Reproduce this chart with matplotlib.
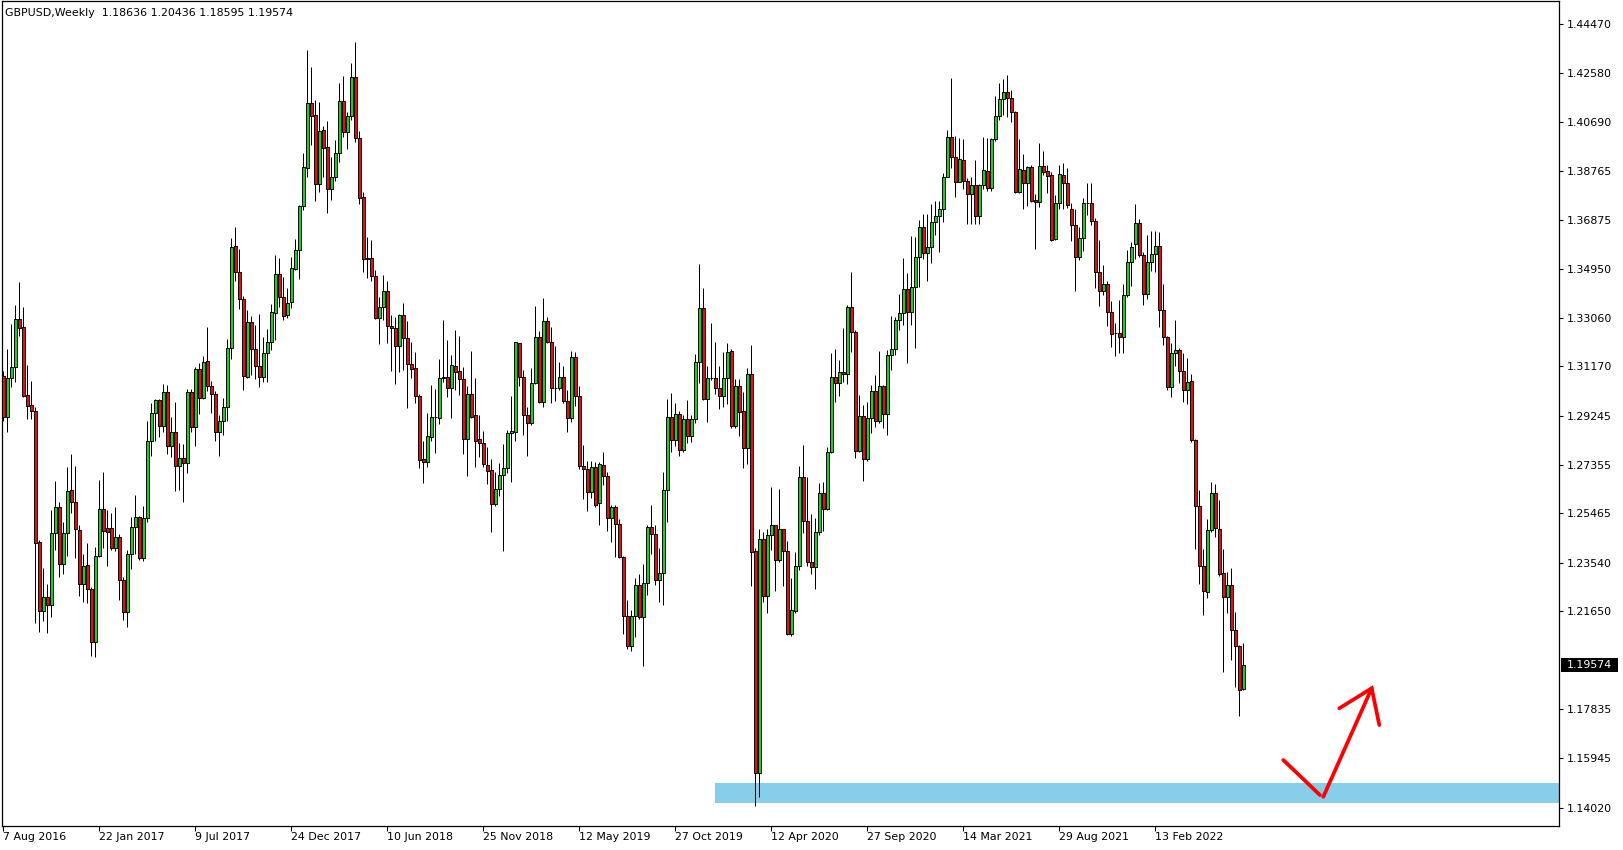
import datetime as dt
import numpy as np
import pandas as pd
import matplotlib
matplotlib.use("Agg")
import matplotlib.pyplot as plt
from matplotlib.patches import Rectangle
from matplotlib.collections import LineCollection, PatchCollection

# ---------------- data ----------------
title_text = "GBPUSD,Weekly  1.18636 1.20436 1.18595 1.19574"
first_week = "2016-08-07"

opens = [
    1.3080, 1.2919, 1.3071, 1.3114, 1.3300, 1.3269, 1.3005, 1.2966, 1.2943, 1.2433,
    1.2165, 1.2220, 1.2188, 1.2468, 1.2572, 1.2348, 1.2468, 1.2637, 1.2589, 1.2480,
    1.2270, 1.2345, 1.2251, 1.2045, 1.2380, 1.2562, 1.2488, 1.2488, 1.2413, 1.2453,
    1.2286, 1.2161, 1.2387, 1.2492, 1.2533, 1.2371, 1.2529, 1.2826, 1.2937, 1.2985,
    1.2887, 1.3017, 1.2807, 1.2864, 1.2729, 1.2760, 1.2741, 1.3017, 1.2883, 1.3107,
    1.2993, 1.3138, 1.3042, 1.3009, 1.2864, 1.2906, 1.2958, 1.3188, 1.3587, 1.3486,
    1.3378, 1.3077, 1.3291, 1.3184, 1.3120, 1.3077, 1.3168, 1.3211, 1.3324, 1.3475,
    1.3386, 1.3317, 1.3369, 1.3496, 1.3569, 1.3740, 1.3887, 1.4140, 1.4093, 1.3825,
    1.4036, 1.3969, 1.3806, 1.3852, 1.3946, 1.4148, 1.4027, 1.4090, 1.4241, 1.4004,
    1.3775, 1.3540, 1.3540, 1.3470, 1.3307, 1.3347, 1.3409, 1.3276, 1.3265, 1.3198,
    1.3316, 1.3226, 1.3125, 1.3110, 1.3002, 1.2756, 1.2744, 1.2842, 1.2919, 1.2915,
    1.3075, 1.3075, 1.3032, 1.3117, 1.3098, 1.3068, 1.2834, 1.3009, 1.2927, 1.2834,
    1.2818, 1.2733, 1.2713, 1.2581, 1.2639, 1.2694, 1.2721, 1.2857, 1.2861, 1.3207,
    1.3075, 1.2927, 1.2896, 1.3051, 1.3230, 1.2980, 1.3293, 1.3211, 1.3032, 1.3032,
    1.3075, 1.2984, 1.2918, 1.3155, 1.3002, 1.2731, 1.2717, 1.2628, 1.2727, 1.2585,
    1.2733, 1.2693, 1.2527, 1.2569, 1.2503, 1.2375, 1.2145, 1.2032, 1.2145, 1.2269,
    1.2142, 1.2275, 1.2493, 1.2464, 1.2288, 1.2316, 1.2637, 1.2920, 1.2830, 1.2931,
    1.2791, 1.2911, 1.2847, 1.2911, 1.3133, 1.3344, 1.2990, 1.3071, 1.3071, 1.3033,
    1.3002, 1.3071, 1.3177, 1.2887, 1.3040, 1.2944, 1.2799, 1.3089, 1.2399, 1.1537,
    1.2446, 1.2223, 1.2460, 1.2500, 1.2364, 1.2484, 1.2399, 1.2078, 1.2166, 1.2340,
    1.2686, 1.2515, 1.2357, 1.2336, 1.2473, 1.2625, 1.2562, 1.2786, 1.3077, 1.3054,
    1.3097, 1.3087, 1.3347, 1.3250, 1.2790, 1.2926, 1.2756, 1.2915, 1.3023, 1.2906,
    1.3042, 1.2931, 1.3162, 1.3184, 1.3298, 1.3324, 1.3417, 1.3328, 1.3425, 1.3544,
    1.3658, 1.3557, 1.3583, 1.3678, 1.3702, 1.3728, 1.3855, 1.4011, 1.3933, 1.3836,
    1.3920, 1.3839, 1.3786, 1.3821, 1.3702, 1.3823, 1.3877, 1.3812, 1.4000, 1.4092,
    1.4156, 1.4186, 1.4160, 1.4108, 1.3794, 1.3881, 1.3829, 1.3891, 1.3764, 1.3758,
    1.3897, 1.3877, 1.3860, 1.3613, 1.3752, 1.3860, 1.3832, 1.3728, 1.3666, 1.3541,
    1.3617, 1.3752, 1.3752, 1.3684, 1.3485, 1.3412, 1.3439, 1.3330, 1.3248, 1.3249,
    1.3232, 1.3393, 1.3525, 1.3592, 1.3673, 1.3552, 1.3398, 1.3525, 1.3553, 1.3587,
    1.3335, 1.3232, 1.3038, 1.3169, 1.3180, 1.3101, 1.3027, 1.3059, 1.2833, 1.2576,
    1.2340, 1.2240, 1.2481, 1.2624, 1.2485, 1.2315, 1.2219, 1.2267, 1.2094, 1.2030,
    1.18636,
]

highs = [
    1.3101, 1.3185, 1.3282, 1.3356, 1.3444, 1.3347, 1.3121, 1.3061, 1.2960, 1.2442,
    1.2332, 1.2271, 1.2559, 1.2672, 1.2589, 1.2514, 1.2725, 1.2777, 1.2730, 1.2501,
    1.2389, 1.2429, 1.2260, 1.2417, 1.2674, 1.2708, 1.2560, 1.2546, 1.2571, 1.2465,
    1.2300, 1.2404, 1.2533, 1.2617, 1.2536, 1.2575, 1.2904, 1.2976, 1.2991, 1.2991,
    1.3048, 1.3045, 1.2921, 1.2978, 1.2820, 1.2816, 1.3028, 1.3028, 1.3114, 1.3132,
    1.3158, 1.3272, 1.3061, 1.3022, 1.2928, 1.2993, 1.3222, 1.3615, 1.3659, 1.3574,
    1.3390, 1.3337, 1.3313, 1.3278, 1.3320, 1.3230, 1.3263, 1.3359, 1.3550, 1.3537,
    1.3466, 1.3421, 1.3544, 1.3611, 1.3745, 1.3946, 1.4347, 1.4281, 1.4153, 1.4144,
    1.4052, 1.4071, 1.3933, 1.3998, 1.4219, 1.4246, 1.4108, 1.4297, 1.4377, 1.4033,
    1.3794, 1.3619, 1.3609, 1.3492, 1.3388, 1.3473, 1.3451, 1.3316, 1.3308, 1.3321,
    1.3362, 1.3294, 1.3211, 1.3173, 1.3010, 1.2827, 1.2935, 1.3045, 1.3029, 1.3146,
    1.3298, 1.3220, 1.3160, 1.3259, 1.3236, 1.3116, 1.3041, 1.3177, 1.3072, 1.2928,
    1.2866, 1.2803, 1.2757, 1.2708, 1.2740, 1.2816, 1.2870, 1.3002, 1.3213, 1.3210,
    1.3103, 1.2961, 1.3112, 1.3353, 1.3255, 1.3383, 1.3311, 1.3272, 1.3197, 1.3136,
    1.3119, 1.3026, 1.3178, 1.3173, 1.3041, 1.2812, 1.2750, 1.2750, 1.2747, 1.2744,
    1.2783, 1.2708, 1.2578, 1.2578, 1.2523, 1.2382, 1.2208, 1.2170, 1.2293, 1.2309,
    1.2351, 1.2502, 1.2580, 1.2502, 1.2411, 1.2705, 1.2990, 1.3014, 1.2976, 1.2944,
    1.2927, 1.2986, 1.2927, 1.3167, 1.3516, 1.3421, 1.3120, 1.3287, 1.3212, 1.3118,
    1.3174, 1.3209, 1.3185, 1.3068, 1.3068, 1.3019, 1.3110, 1.3200, 1.2413, 1.2484,
    1.2474, 1.2484, 1.2648, 1.2502, 1.2641, 1.2485, 1.2439, 1.2295, 1.2394, 1.2729,
    1.2811, 1.2686, 1.2542, 1.2527, 1.2665, 1.2669, 1.2803, 1.3168, 1.3184, 1.3142,
    1.3265, 1.3356, 1.3483, 1.3259, 1.3006, 1.2967, 1.2980, 1.3045, 1.3084, 1.3177,
    1.3045, 1.3181, 1.3313, 1.3311, 1.3399, 1.3537, 1.3482, 1.3624, 1.3622, 1.3687,
    1.3709, 1.3709, 1.3749, 1.3761, 1.3762, 1.3868, 1.4036, 1.4237, 1.4013, 1.4004,
    1.4000, 1.3849, 1.3853, 1.3920, 1.3827, 1.4008, 1.4004, 1.4007, 1.4169, 1.4218,
    1.4235, 1.4250, 1.4192, 1.4112, 1.4000, 1.3942, 1.3897, 1.3900, 1.3786, 1.3985,
    1.3955, 1.3900, 1.3875, 1.3784, 1.3900, 1.3910, 1.3890, 1.3752, 1.3728, 1.3659,
    1.3774, 1.3832, 1.3830, 1.3696, 1.3607, 1.3513, 1.3448, 1.3370, 1.3288, 1.3374,
    1.3437, 1.3568, 1.3600, 1.3749, 1.3689, 1.3564, 1.3628, 1.3642, 1.3642, 1.3638,
    1.3437, 1.3235, 1.3210, 1.3298, 1.3187, 1.3169, 1.3149, 1.3089, 1.2837, 1.2635,
    1.2406, 1.2523, 1.2666, 1.2659, 1.2597, 1.2406, 1.2319, 1.2333, 1.2163, 1.2034,
    1.20436,
]

lows = [
    1.2906, 1.2864, 1.3036, 1.3058, 1.3237, 1.2997, 1.2914, 1.2914, 1.2118, 1.2086,
    1.2129, 1.2080, 1.2142, 1.2404, 1.2300, 1.2310, 1.2381, 1.2546, 1.2374, 1.2226,
    1.2200, 1.2196, 1.1993, 1.1986, 1.2375, 1.2410, 1.2343, 1.2404, 1.2400, 1.2209,
    1.2131, 1.2105, 1.2331, 1.2388, 1.2365, 1.2362, 1.2514, 1.2770, 1.2827, 1.2844,
    1.2864, 1.2775, 1.2766, 1.2634, 1.2637, 1.2589, 1.2704, 1.2864, 1.2809, 1.2932,
    1.2989, 1.3023, 1.2937, 1.2829, 1.2770, 1.2851, 1.2906, 1.3146, 1.3451, 1.3342,
    1.3025, 1.3073, 1.3084, 1.3068, 1.3038, 1.3058, 1.3058, 1.3181, 1.3220, 1.3350,
    1.3298, 1.3307, 1.3346, 1.3492, 1.3457, 1.3725, 1.3855, 1.3978, 1.3762, 1.3797,
    1.3855, 1.3712, 1.3764, 1.3838, 1.3913, 1.4011, 1.3964, 1.4075, 1.3990, 1.3747,
    1.3486, 1.3460, 1.3451, 1.3303, 1.3203, 1.3298, 1.3210, 1.3101, 1.3048, 1.3094,
    1.3103, 1.2957, 1.3071, 1.2974, 1.2721, 1.2663, 1.2727, 1.2829, 1.2782, 1.2895,
    1.3055, 1.3000, 1.2918, 1.3026, 1.3006, 1.2775, 1.2693, 1.2915, 1.2725, 1.2766,
    1.2725, 1.2659, 1.2475, 1.2575, 1.2613, 1.2401, 1.2704, 1.2669, 1.2829, 1.3042,
    1.2852, 1.2770, 1.2891, 1.3048, 1.2976, 1.2958, 1.3210, 1.2976, 1.2983, 1.3026,
    1.2976, 1.2862, 1.2901, 1.2965, 1.2717, 1.2603, 1.2556, 1.2606, 1.2572, 1.2501,
    1.2656, 1.2479, 1.2436, 1.2378, 1.2371, 1.2078, 1.2018, 1.2012, 1.2064, 1.2135,
    1.1954, 1.2230, 1.2389, 1.2269, 1.2201, 1.2191, 1.2514, 1.2785, 1.2806, 1.2768,
    1.2785, 1.2821, 1.2825, 1.2896, 1.3051, 1.2986, 1.2903, 1.3065, 1.3011, 1.2953,
    1.2959, 1.2972, 1.2877, 1.2877, 1.2845, 1.2722, 1.2736, 1.2262, 1.1407, 1.1442,
    1.2201, 1.2159, 1.2404, 1.2245, 1.2358, 1.2265, 1.2074, 1.2070, 1.2160, 1.2326,
    1.2470, 1.2340, 1.2312, 1.2251, 1.2460, 1.2478, 1.2559, 1.2782, 1.2980, 1.3002,
    1.3058, 1.3049, 1.3175, 1.2763, 1.2786, 1.2673, 1.2751, 1.2860, 1.2883, 1.2896,
    1.2879, 1.2851, 1.3103, 1.3162, 1.3259, 1.3278, 1.3132, 1.3278, 1.3188, 1.3427,
    1.3534, 1.3451, 1.3518, 1.3628, 1.3563, 1.3680, 1.3855, 1.3887, 1.3777, 1.3836,
    1.3806, 1.3670, 1.3670, 1.3670, 1.3670, 1.3807, 1.3801, 1.3801, 1.3995, 1.4075,
    1.4095, 1.4086, 1.4069, 1.3793, 1.3793, 1.3729, 1.3742, 1.3758, 1.3572, 1.3736,
    1.3860, 1.3791, 1.3603, 1.3610, 1.3731, 1.3728, 1.3735, 1.3606, 1.3412, 1.3531,
    1.3566, 1.3707, 1.3668, 1.3423, 1.3353, 1.3395, 1.3274, 1.3194, 1.3159, 1.3170,
    1.3170, 1.3388, 1.3430, 1.3534, 1.3543, 1.3356, 1.3381, 1.3489, 1.3485, 1.3270,
    1.3201, 1.3027, 1.2999, 1.3120, 1.3051, 1.2978, 1.2971, 1.2823, 1.2409, 1.2273,
    1.2152, 1.2215, 1.2474, 1.2455, 1.2301, 1.1930, 1.2159, 1.1976, 1.1872, 1.1757,
    1.18595,
]

closes = [
    1.2922, 1.3071, 1.3116, 1.3300, 1.3265, 1.3002, 1.2963, 1.2943, 1.2429, 1.2168,
    1.2220, 1.2188, 1.2468, 1.2572, 1.2348, 1.2468, 1.2632, 1.2591, 1.2484, 1.2270,
    1.2341, 1.2251, 1.2045, 1.2380, 1.2562, 1.2477, 1.2475, 1.2413, 1.2453, 1.2286,
    1.2161, 1.2387, 1.2492, 1.2533, 1.2371, 1.2529, 1.2826, 1.2937, 1.2985, 1.2887,
    1.3017, 1.2807, 1.2864, 1.2729, 1.2760, 1.2741, 1.3017, 1.2883, 1.3107, 1.2993,
    1.3133, 1.3042, 1.3009, 1.2864, 1.2906, 1.2958, 1.3188, 1.3583, 1.3486, 1.3378,
    1.3081, 1.3291, 1.3184, 1.3120, 1.3077, 1.3168, 1.3211, 1.3327, 1.3475, 1.3386,
    1.3315, 1.3362, 1.3499, 1.3569, 1.3740, 1.3891, 1.4140, 1.4092, 1.3828, 1.4031,
    1.3965, 1.3806, 1.3852, 1.3946, 1.4148, 1.4027, 1.4090, 1.4241, 1.4004, 1.3773,
    1.3534, 1.3534, 1.3470, 1.3307, 1.3347, 1.3409, 1.3276, 1.3265, 1.3198, 1.3316,
    1.3226, 1.3125, 1.3106, 1.3002, 1.2753, 1.2744, 1.2847, 1.2919, 1.2919, 1.3071,
    1.3071, 1.3032, 1.3121, 1.3097, 1.3067, 1.2834, 1.3009, 1.2922, 1.2829, 1.2818,
    1.2737, 1.2712, 1.2581, 1.2639, 1.2694, 1.2721, 1.2857, 1.2865, 1.3211, 1.3075,
    1.2927, 1.2896, 1.3051, 1.3230, 1.2980, 1.3293, 1.3211, 1.3032, 1.3032, 1.3075,
    1.2984, 1.2918, 1.3155, 1.3003, 1.2731, 1.2720, 1.2628, 1.2727, 1.2578, 1.2737,
    1.2693, 1.2527, 1.2569, 1.2503, 1.2378, 1.2145, 1.2032, 1.2145, 1.2269, 1.2142,
    1.2275, 1.2493, 1.2464, 1.2288, 1.2316, 1.2637, 1.2920, 1.2830, 1.2931, 1.2791,
    1.2911, 1.2847, 1.2911, 1.3133, 1.3344, 1.2990, 1.3071, 1.3071, 1.3033, 1.3002,
    1.3071, 1.3174, 1.2887, 1.3040, 1.2941, 1.2799, 1.3089, 1.2396, 1.1537, 1.2445,
    1.2223, 1.2460, 1.2500, 1.2364, 1.2484, 1.2399, 1.2078, 1.2170, 1.2340, 1.2686,
    1.2515, 1.2357, 1.2336, 1.2473, 1.2625, 1.2562, 1.2786, 1.3077, 1.3054, 1.3097,
    1.3087, 1.3347, 1.3252, 1.2790, 1.2926, 1.2756, 1.2915, 1.3023, 1.2906, 1.3042,
    1.2931, 1.3162, 1.3184, 1.3298, 1.3324, 1.3417, 1.3328, 1.3425, 1.3544, 1.3658,
    1.3557, 1.3583, 1.3678, 1.3702, 1.3728, 1.3855, 1.4011, 1.3933, 1.3836, 1.3922,
    1.3839, 1.3786, 1.3821, 1.3702, 1.3823, 1.3881, 1.3812, 1.4000, 1.4092, 1.4156,
    1.4186, 1.4160, 1.4108, 1.3794, 1.3885, 1.3829, 1.3891, 1.3760, 1.3755, 1.3897,
    1.3875, 1.3856, 1.3610, 1.3752, 1.3864, 1.3832, 1.3745, 1.3666, 1.3543, 1.3617,
    1.3752, 1.3752, 1.3684, 1.3485, 1.3412, 1.3439, 1.3330, 1.3242, 1.3248, 1.3232,
    1.3393, 1.3525, 1.3580, 1.3673, 1.3552, 1.3398, 1.3525, 1.3553, 1.3587, 1.3335,
    1.3232, 1.3038, 1.3169, 1.3180, 1.3101, 1.3027, 1.3055, 1.2833, 1.2576, 1.2340,
    1.2243, 1.2481, 1.2624, 1.2488, 1.2312, 1.2219, 1.2267, 1.2093, 1.2030, 1.1861,
    1.19574,
]

price_ticks = [1.44470, 1.42580, 1.40690, 1.38765, 1.36875, 1.34950, 1.33060,
               1.31170, 1.29245, 1.27355, 1.25465, 1.23540, 1.21650, 1.17835,
               1.15945, 1.14020]
date_labels = ["7 Aug 2016", "22 Jan 2017", "9 Jul 2017", "24 Dec 2017",
               "10 Jun 2018", "25 Nov 2018", "12 May 2019", "27 Oct 2019",
               "12 Apr 2020", "27 Sep 2020", "14 Mar 2021", "29 Aug 2021",
               "13 Feb 2022"]
last_price = 1.19574

# support zone (drawn rectangle)
zone_start = "2020-01-05"
zone_low = 1.1421
zone_high = 1.1499

# hand-drawn red arrow (bar number from first week, price)
arrow_leg1_bars = [319.95, 329.1]
arrow_leg1_prices = [1.1587, 1.1451]
arrow_leg2_bars = [329.95, 342.05]
arrow_leg2_prices = [1.1444, 1.1866]
arrow_head_bars = [333.95, 342.05, 343.95]
arrow_head_prices = [1.1788, 1.1866, 1.1723]

# ---------------- styling ----------------
BULL = "#22cc22"
BEAR = "#dd1111"
ZONE = "#87ceeb"
FS = 7.9

W, H = 1624, 850
fig = plt.figure(figsize=(W / 100, H / 100), dpi=100)
fig.patch.set_facecolor("white")
left_px, right_px, top_px, bottom_px = 2.0, 1559.5, 1.0, 826.0
ax = fig.add_axes([left_px / W, 1 - bottom_px / H,
                   (right_px - left_px) / W, (bottom_px - top_px) / H])
ax.set_facecolor("white")

o = np.array(opens)
h = np.array(highs)
l = np.array(lows)
c = np.array(closes)
n = len(c)
xs = np.arange(n)
weeks = pd.date_range(first_week, periods=n, freq="7D")

bar_px = 4.0
ax.set_xlim(-(3.5 - left_px) / bar_px, (right_px - 3.5) / bar_px)
ax.set_ylim(1.13304, 1.45380)

# zone rectangle
z0 = weeks.get_loc(pd.Timestamp(zone_start))
ax.add_patch(Rectangle((z0, zone_low), ax.get_xlim()[1] - z0 + 1, zone_high - zone_low,
                       facecolor=ZONE, edgecolor="none", zorder=1))

# candles
body_w = 0.62
lo = np.minimum(l, np.minimum(o, c))
hi = np.maximum(h, np.maximum(o, c))
wicks = [[(xi, a), (xi, b)] for xi, a, b in zip(xs, lo, hi)]
ax.add_collection(LineCollection(wicks, colors="black", linewidths=0.72, zorder=2))
rects = [Rectangle((xi - body_w / 2, min(oi, ci)), body_w, abs(ci - oi))
         for xi, oi, ci in zip(xs, o, c)]
fcols = [BULL if ci >= oi else BEAR for oi, ci in zip(o, c)]
ax.add_collection(PatchCollection(rects, facecolors=fcols, edgecolors="black",
                                  linewidths=0.65, zorder=3))

# arrow
for bx, py in [(arrow_leg1_bars, arrow_leg1_prices),
               (arrow_leg2_bars, arrow_leg2_prices),
               (arrow_head_bars, arrow_head_prices)]:
    ax.plot(bx, py, color="#ff0000", lw=2.7, solid_capstyle="round",
            solid_joinstyle="miter", zorder=4)

# axes / ticks
for s in ax.spines.values():
    s.set_color("black")
    s.set_linewidth(0.9)
ax.yaxis.tick_right()
ax.set_yticks(price_ticks)
ax.set_yticklabels([f"{p:.5f}" for p in price_ticks])
ax.tick_params(axis="y", direction="out", length=3.0, width=0.8, pad=2.6,
               labelsize=FS, colors="black")

date_pos = [weeks.get_loc(pd.Timestamp(dt.datetime.strptime(d, "%d %b %Y")))
            for d in date_labels]
ax.set_xticks(date_pos)
ax.set_xticklabels(date_labels)
ax.tick_params(axis="x", direction="out", length=3.5, width=0.8, pad=1.0,
               labelsize=FS, colors="black")
for lab in ax.get_xticklabels():
    lab.set_ha("left")

# title
fig.text(5 / W, 1 - 12.5 / H, title_text, ha="left", va="center", fontsize=FS,
         color="black")

# current price box
y_disp = ax.transData.transform((0, last_price))[1]
box_h = 14
fig.add_artist(Rectangle((1561.5 / W, (y_disp - box_h / 2) / H), 57 / W, box_h / H,
                         transform=fig.transFigure, facecolor="black",
                         edgecolor="none", zorder=5))
fig.text(1567 / W, y_disp / H, f"{last_price:.5f}", ha="left", va="center",
         fontsize=FS, color="white", zorder=6)

fig.savefig("out.png", dpi=100, facecolor="white")
